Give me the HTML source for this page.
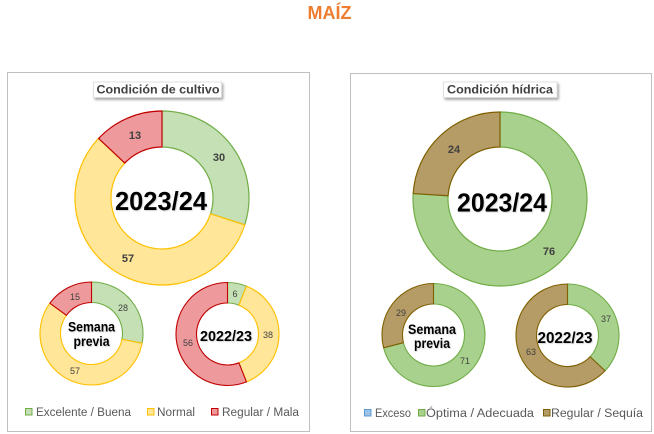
<!DOCTYPE html>
<html>
<head>
<meta charset="utf-8">
<style>
  html,body{margin:0;padding:0;background:#fff;}
  svg{display:block;}
  text{font-family:"Liberation Sans",sans-serif;}
</style>
</head>
<body>
<svg width="654" height="434" viewBox="0 0 654 434" xmlns="http://www.w3.org/2000/svg">
  <defs>
    <filter id="sh" x="-10%" y="-30%" width="130%" height="180%">
      <feDropShadow dx="1.5" dy="2" stdDeviation="1.2" flood-color="#000" flood-opacity="0.35"/>
    </filter>
    <filter id="tsh" x="-10%" y="-20%" width="130%" height="150%">
      <feDropShadow dx="0.8" dy="0.8" stdDeviation="0.6" flood-color="#000" flood-opacity="0.2"/>
    </filter>
  </defs>

  <!-- Title -->
  <text x="329.5" y="19" text-anchor="middle" font-size="18" font-weight="bold" fill="#ED7D31">MAÍZ</text>

  <!-- Panels -->
  <rect x="7.5" y="72.5" width="302" height="359" fill="#fff" stroke="#BFBFBF" stroke-width="1"/>
  <rect x="350.5" y="73.5" width="301" height="358" fill="#fff" stroke="#BFBFBF" stroke-width="1"/>

  <!-- Panel titles -->
  <rect x="93.5" y="82" width="128" height="15.5" fill="#fff" stroke="#D9D9D9" stroke-width="0.8" filter="url(#sh)"/>
  <text x="158" y="93.5" text-anchor="middle" font-size="11.5" font-weight="bold" fill="#404040" textLength="123" lengthAdjust="spacingAndGlyphs">Condición  de cultivo</text>
  <rect x="443.5" y="82" width="113.5" height="15.5" fill="#fff" stroke="#D9D9D9" stroke-width="0.8" filter="url(#sh)"/>
  <text x="500" y="93.5" text-anchor="middle" font-size="11.5" font-weight="bold" fill="#404040" textLength="106" lengthAdjust="spacingAndGlyphs">Condición  hídrica</text>

  <!-- LEFT MAIN DONUT -->
  <g stroke-width="1.2" stroke-linejoin="round">
    <path d="M162,111 A87,87 0 0 1 244.74,224.88 L210.50,213.76 A51,51 0 0 0 162,147 Z" fill="#C5E0B4" stroke="#70AD47"/>
    <path d="M244.74,224.88 A87,87 0 1 1 98.58,138.45 L124.82,163.09 A51,51 0 1 0 210.50,213.76 Z" fill="#FFE699" stroke="#FFC000"/>
    <path d="M98.58,138.45 A87,87 0 0 1 162,111 L162,147 A51,51 0 0 0 124.82,163.09 Z" fill="#EE9A9C" stroke="#C00000"/>
  </g>
  <g font-size="11" font-weight="bold" fill="#404040" text-anchor="middle">
    <text x="135" y="139">13</text>
    <text x="219" y="161">30</text>
    <text x="128" y="262">57</text>
  </g>
  <text x="161" y="210" text-anchor="middle" font-size="26" font-weight="bold" fill="#000" textLength="92" lengthAdjust="spacingAndGlyphs" filter="url(#tsh)">2023/24</text>

  <!-- LEFT SEMANA PREVIA -->
  <g stroke-width="1.1" stroke-linejoin="round">
    <path d="M91.5,282 A51.5,51.5 0 0 1 142.09,343.15 L121.95,339.31 A31,31 0 0 0 91.5,302.5 Z" fill="#C5E0B4" stroke="#70AD47"/>
    <path d="M142.09,343.15 A51.5,51.5 0 1 1 49.84,303.23 L66.42,315.28 A31,31 0 1 0 121.95,339.31 Z" fill="#FFE699" stroke="#FFC000"/>
    <path d="M49.84,303.23 A51.5,51.5 0 0 1 91.5,282 L91.5,302.5 A31,31 0 0 0 66.42,315.28 Z" fill="#EE9A9C" stroke="#C00000"/>
  </g>
  <g font-size="9" fill="#404040" text-anchor="middle">
    <text x="75" y="300">15</text>
    <text x="123" y="311">28</text>
    <text x="75" y="374">57</text>
  </g>
  <g font-size="13.5" font-weight="bold" fill="#000" text-anchor="middle" filter="url(#tsh)">
    <text x="91.5" y="331.5" textLength="47" lengthAdjust="spacingAndGlyphs">Semana</text>
    <text x="91.5" y="346" textLength="36" lengthAdjust="spacingAndGlyphs">previa</text>
  </g>

  <!-- LEFT 2022/23 -->
  <g stroke-width="1.1" stroke-linejoin="round">
    <path d="M227.5,282.5 A51.5,51.5 0 0 1 246.46,286.12 L238.91,305.18 A31,31 0 0 0 227.5,303 Z" fill="#C5E0B4" stroke="#70AD47"/>
    <path d="M246.46,286.12 A51.5,51.5 0 0 1 246.46,381.88 L238.91,362.82 A31,31 0 0 0 238.91,305.18 Z" fill="#FFE699" stroke="#FFC000"/>
    <path d="M246.46,381.88 A51.5,51.5 0 1 1 227.5,282.5 L227.5,303 A31,31 0 1 0 238.91,362.82 Z" fill="#EE9A9C" stroke="#C00000"/>
  </g>
  <g font-size="9" fill="#404040" text-anchor="middle">
    <text x="235" y="297">6</text>
    <text x="268" y="338">38</text>
    <text x="188" y="346">56</text>
  </g>
  <text x="226" y="341" text-anchor="middle" font-size="15" font-weight="bold" fill="#000" textLength="52" lengthAdjust="spacingAndGlyphs" filter="url(#tsh)">2022/23</text>

  <!-- LEFT LEGEND -->
  <g stroke-width="1">
    <rect x="25.5" y="408.5" width="6.5" height="6.5" fill="#C5E0B4" stroke="#70AD47"/>
    <rect x="147.5" y="408.5" width="6.5" height="6.5" fill="#FFE699" stroke="#FFC000"/>
    <rect x="211.5" y="408.5" width="6.5" height="6.5" fill="#EE9A9C" stroke="#C00000"/>
  </g>
  <g font-size="11.5" fill="#595959">
    <text x="36" y="416" textLength="95" lengthAdjust="spacingAndGlyphs">Excelente / Buena</text>
    <text x="157" y="416" textLength="38" lengthAdjust="spacingAndGlyphs">Normal</text>
    <text x="222" y="416" textLength="77" lengthAdjust="spacingAndGlyphs">Regular / Mala</text>
  </g>

  <!-- RIGHT MAIN DONUT -->
  <g stroke-width="1.2" stroke-linejoin="round">
    <path d="M500,112 A87,87 0 1 1 413.17,193.54 L448.10,195.73 A52,52 0 1 0 500,147 Z" fill="#A9D18E" stroke="#70AD47"/>
    <path d="M413.17,193.54 A87,87 0 0 1 500,112 L500,147 A52,52 0 0 0 448.10,195.73 Z" fill="#B59C66" stroke="#7F6000"/>
  </g>
  <g font-size="11" font-weight="bold" fill="#404040" text-anchor="middle">
    <text x="454" y="153">24</text>
    <text x="549" y="255">76</text>
  </g>
  <text x="502" y="211.5" text-anchor="middle" font-size="26" font-weight="bold" fill="#000" textLength="90" lengthAdjust="spacingAndGlyphs" filter="url(#tsh)">2023/24</text>

  <!-- RIGHT SEMANA PREVIA -->
  <g stroke-width="1.1" stroke-linejoin="round">
    <path d="M433.5,283.5 A51.5,51.5 0 1 1 383.62,347.81 L403.47,342.71 A31,31 0 1 0 433.5,304 Z" fill="#A9D18E" stroke="#70AD47"/>
    <path d="M383.62,347.81 A51.5,51.5 0 0 1 433.5,283.5 L433.5,304 A31,31 0 0 0 403.47,342.71 Z" fill="#B59C66" stroke="#7F6000"/>
  </g>
  <g font-size="9" fill="#404040" text-anchor="middle">
    <text x="401" y="316">29</text>
    <text x="465" y="364">71</text>
  </g>
  <g font-size="13.5" font-weight="bold" fill="#000" text-anchor="middle" filter="url(#tsh)">
    <text x="432" y="334" textLength="48" lengthAdjust="spacingAndGlyphs">Semana</text>
    <text x="432" y="348" textLength="36" lengthAdjust="spacingAndGlyphs">previa</text>
  </g>

  <!-- RIGHT 2022/23 -->
  <g stroke-width="1.1" stroke-linejoin="round">
    <path d="M567.5,284 A51.5,51.5 0 0 1 605.04,370.75 L590.10,356.72 A31,31 0 0 0 567.5,304.5 Z" fill="#A9D18E" stroke="#70AD47"/>
    <path d="M605.04,370.75 A51.5,51.5 0 1 1 567.5,284 L567.5,304.5 A31,31 0 1 0 590.10,356.72 Z" fill="#B59C66" stroke="#7F6000"/>
  </g>
  <g font-size="9" fill="#404040" text-anchor="middle">
    <text x="606" y="322">37</text>
    <text x="531" y="355">63</text>
  </g>
  <text x="565" y="343" text-anchor="middle" font-size="15.5" font-weight="bold" fill="#000" textLength="55" lengthAdjust="spacingAndGlyphs" filter="url(#tsh)">2022/23</text>

  <!-- RIGHT LEGEND -->
  <g stroke-width="1">
    <rect x="364.5" y="409.5" width="6.5" height="6.5" fill="#9DC3E6" stroke="#5B9BD5"/>
    <rect x="418.5" y="409.5" width="6.5" height="6.5" fill="#A9D18E" stroke="#70AD47"/>
    <rect x="543.5" y="409.5" width="6.5" height="6.5" fill="#B59C66" stroke="#7F6000"/>
  </g>
  <g font-size="11.5" fill="#595959">
    <text x="375" y="417" textLength="36" lengthAdjust="spacingAndGlyphs">Exceso</text>
    <text x="426" y="417" textLength="108" lengthAdjust="spacingAndGlyphs">Óptima / Adecuada</text>
    <text x="551" y="417" textLength="92" lengthAdjust="spacingAndGlyphs">Regular / Sequía</text>
  </g>
</svg>
</body>
</html>
